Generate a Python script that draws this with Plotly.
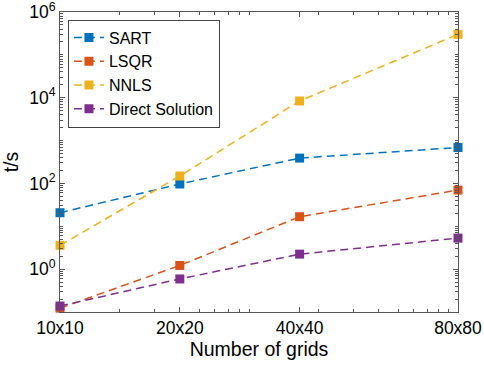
import plotly.graph_objects as go

# Data
grid_labels = ["10x10", "20x20", "40x40", "80x80"]
grid_pos = [100, 400, 1600, 10000]  # log-axis positions of the categories as drawn
sart = [20.7, 97, 390, 690]
lsqr = [0.123, 1.22, 16.7, 70]
nnls = [3.6, 149, 8400, 300000]
direct = [0.138, 0.59, 2.24, 5.3]

series = [
    ("SART", sart, "#0072BD"),
    ("LSQR", lsqr, "#D95319"),
    ("NNLS", nnls, "#EDB120"),
    ("Direct Solution", direct, "#7E2F8E"),
]

fig = go.Figure()
for name, vals, col in series:
    fig.add_trace(go.Scatter(
        x=grid_pos, y=vals, name=name, mode="lines+markers",
        line=dict(color=col, width=1.5, dash="8px,5px"),
        marker=dict(symbol="square", size=9, color=col),
        cliponaxis=False,
    ))

# invisible helper trace so the mirrored (top/right) axes are drawn
fig.add_trace(go.Scatter(
    x=grid_pos, y=sart, xaxis="x2", yaxis="y2", mode="markers",
    marker=dict(opacity=0), showlegend=False, hoverinfo="skip",
))

axcol = "#555555"
font = "Liberation Sans, Arial, sans-serif"

y_exps = [0, 2, 4, 6]
y_major = [10.0 ** e for e in y_exps]
y_text = [f"10<sup>{e}</sup>" for e in y_exps]
y_minor = [k * 10.0 ** e for e in range(-1, 6) for k in range(1, 10) if not (k == 1 and e % 2 == 0)]
x_minor = [k * 10.0 ** e for e in range(2, 4) for k in range(2, 10)]

common = dict(
    ticks="inside", ticklen=5, tickcolor=axcol, tickwidth=1,
    showline=True, linecolor=axcol, linewidth=1,
    showgrid=False, zeroline=False, automargin=False,
)

fig.update_layout(
    width=484, height=369,
    margin=dict(l=60, r=26, t=12, b=57, autoexpand=False),
    paper_bgcolor="white", plot_bgcolor="white",
    font=dict(family=font, color="#262626", size=17),
    showlegend=True,
    legend=dict(
        x=0.02, y=0.975, xanchor="left", yanchor="top",
        bgcolor="white", bordercolor="#444444", borderwidth=1,
        font=dict(size=16, color="#000000"),
        tracegroupgap=0,
    ),
    xaxis=dict(
        type="log", range=[2, 4],
        tickmode="array", tickvals=grid_pos, ticktext=grid_labels,
        tickfont=dict(size=17.5, color="#000000"), ticklabeloverflow="allow",
        title=dict(text="Number of grids", font=dict(size=19.5, color="#000000"), standoff=4),
        minor=dict(tickvals=x_minor, ticks="inside", ticklen=3, tickcolor=axcol, showgrid=False),
        **common,
    ),
    yaxis=dict(
        type="log", range=[-1, 6],
        tickmode="array", tickvals=y_major, ticktext=y_text,
        tickfont=dict(size=17.5, color="#000000"), ticklabeloverflow="allow",
        title=dict(text="t/s", font=dict(size=19.5, color="#000000"), standoff=6),
        minor=dict(tickvals=y_minor, ticks="inside", ticklen=3, tickcolor=axcol, showgrid=False),
        **common,
    ),
    xaxis2=dict(
        type="log", range=[2, 4], overlaying="x", side="top", anchor="y2",
        tickmode="array", tickvals=grid_pos, showticklabels=False,
        minor=dict(tickvals=x_minor, ticks="inside", ticklen=3, tickcolor=axcol, showgrid=False),
        **common,
    ),
    yaxis2=dict(
        type="log", range=[-1, 6], overlaying="y", side="right", anchor="x2",
        tickmode="array", tickvals=y_major, showticklabels=False,
        minor=dict(tickvals=y_minor, ticks="inside", ticklen=3, tickcolor=axcol, showgrid=False),
        **common,
    ),
)

fig.write_html(
    "out.html",
    config={"displayModeBar": False},
    post_script="document.body.style.margin='0';",
)
